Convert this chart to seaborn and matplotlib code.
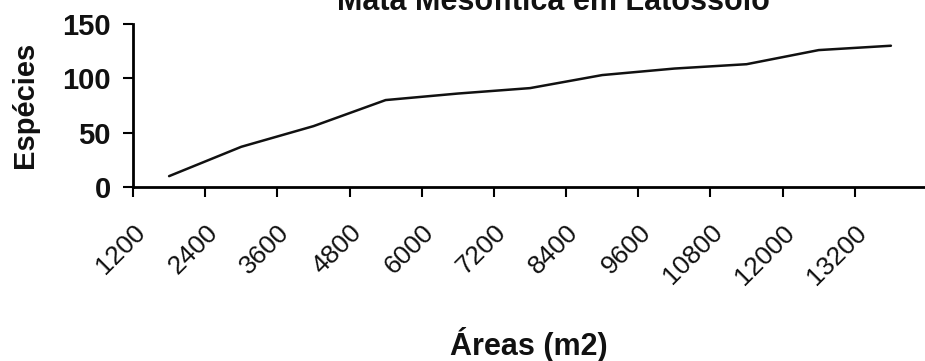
import numpy as np
import pandas as pd
import matplotlib
matplotlib.use("Agg")
import matplotlib.pyplot as plt
import matplotlib.transforms as mtransforms
import seaborn as sns

areas = ["1200", "2400", "3600", "4800", "6000", "7200", "8400", "9600", "10800", "12000", "13200"]
especies = [10, 37, 56, 80, 86, 91, 103, 109, 113, 126, 130]
y_ticks = [0, 50, 100, 150]

title = "Mata Mesofítica em Latossolo"
xlabel = "Áreas (m2)"
ylabel = "Espécies"

sns.set_theme(style="white")
plt.rcParams["font.family"] = ["Liberation Sans", "DejaVu Sans"]

W, H = 925, 361
fig = plt.figure(figsize=(W / 100, H / 100), dpi=100)
ax = fig.add_axes([133 / W, (H - 187) / H, (927 - 133) / W, (187 - 24) / H])

df = pd.DataFrame({"area": areas, "esp": especies})
df["pos"] = np.arange(len(areas))
sns.lineplot(data=df, x="pos", y="esp", ax=ax, color="#111111", linewidth=1.8)

ax.set_xlim(-0.5, len(areas) - 0.5)
ax.set_ylim(0, 150)
ax.set_yticks(y_ticks)
ax.set_yticklabels([str(v) for v in y_ticks], fontsize=21, fontweight="bold")

ax.set_xticks(np.arange(len(areas)) - 0.5)
ax.set_xticklabels(areas, fontsize=19, rotation=45, ha="right", va="top",
                   rotation_mode="anchor")
offset = mtransforms.ScaledTranslation(5 / 100, 0, fig.dpi_scale_trans)
for lab in ax.get_xticklabels():
    lab.set_transform(lab.get_transform() + offset)

ax.tick_params(axis="x", direction="out", length=7, width=1.5, color="black", pad=17)
ax.tick_params(axis="y", direction="out", length=7, width=1.5, color="black", pad=9)
ax.tick_params(axis="both", bottom=True, left=True, labelcolor="#111111")

for s in ["top", "right"]:
    ax.spines[s].set_visible(False)
for s in ["left", "bottom"]:
    ax.spines[s].set_color("black")
    ax.spines[s].set_linewidth(2.0)

ax.set_xlabel("")
ax.set_ylabel("")
ax.grid(False)

fig.text(553 / W, 1 - 10 / H, title, ha="center", va="baseline",
         fontsize=22, fontweight="bold", color="#111111")
fig.text(529 / W, 1 - 345 / H, xlabel, ha="center", va="center",
         fontsize=22, fontweight="bold", color="#111111")
fig.text(25 / W, 1 - 105 / H, ylabel, ha="center", va="center", rotation=90,
         fontsize=21, fontweight="bold", color="#111111")

fig.savefig("out.png", dpi=100, facecolor="white")
